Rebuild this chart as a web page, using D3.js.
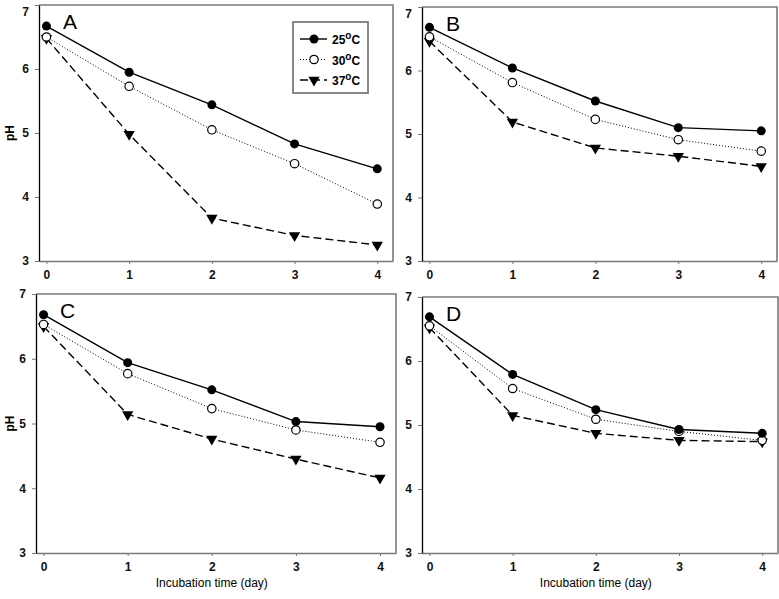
<!DOCTYPE html>
<html>
<head>
<meta charset="utf-8">
<script src="https://cdn.jsdelivr.net/npm/d3@7"></script>
<style>
  body { margin: 0; background: #fff; }
  svg { font-family: "Liberation Sans", Arial, sans-serif; }
</style>
</head>
<body>
<div id="chart"></div>
<script>
// incubation days and pH readings per panel
const days = [0, 1, 2, 3, 4];
const temps = ["25", "30", "37"];
const panelNames = ["A", "B", "C", "D"];
const yTicks = [3, 4, 5, 6, 7];

const phA25 = [6.67, 5.95, 5.44, 4.83, 4.44];
const phA30 = [6.50, 5.73, 5.05, 4.52, 3.89];
const phA37 = [6.48, 4.98, 3.67, 3.40, 3.25];

const phB25 = [6.68, 6.04, 5.52, 5.10, 5.05];
const phB30 = [6.53, 5.81, 5.23, 4.91, 4.73];
const phB37 = [6.46, 5.19, 4.78, 4.65, 4.49];

const phC25 = [6.68, 5.94, 5.52, 5.03, 4.95];
const phC30 = [6.53, 5.77, 5.23, 4.90, 4.71];
const phC37 = [6.50, 5.14, 4.76, 4.45, 4.16];

const phD25 = [6.69, 5.79, 5.24, 4.93, 4.87];
const phD30 = [6.55, 5.57, 5.09, 4.90, 4.76];
const phD37 = [6.52, 5.15, 4.87, 4.76, 4.74];

const panelData = [
  [phA25, phA30, phA37],
  [phB25, phB30, phB37],
  [phC25, phC30, phC37],
  [phD25, phD30, phD37]
];

// layout of the four frames (pixels)
const frames = [
  { x0: 39, x1: 393, y0: 5, y1: 261, ylab: true, xlab: false, legend: true },
  { x0: 422, x1: 777, y0: 7, y1: 261, ylab: false, xlab: false, legend: false },
  { x0: 36, x1: 396, y0: 294, y1: 553, ylab: true, xlab: true, legend: false },
  { x0: 422, x1: 778, y0: 297, y1: 553, ylab: false, xlab: true, legend: false }
];

const lineStyles = [
  { dash: null, width: 1.4 },
  { dash: "1,2", width: 1 },
  { dash: "8,4", width: 1.4 }
];

const svg = d3.select("#chart").append("svg")
  .attr("width", 779)
  .attr("height", 599);

function drawMarker(g, s, x, y) {
  if (s === 0) {
    g.append("circle").attr("cx", x).attr("cy", y).attr("r", 4.5).attr("fill", "#000");
  } else if (s === 1) {
    g.append("circle").attr("cx", x).attr("cy", y).attr("r", 4.2)
      .attr("fill", "#fff").attr("stroke", "#000").attr("stroke-width", 1.2);
  } else {
    g.append("path")
      .attr("d", d3.symbol().type(d3.symbolTriangle).size(55)())
      .attr("transform", `translate(${x},${y}) rotate(180)`)
      .attr("fill", "#000");
  }
}

frames.forEach((f, i) => {
  const x = d3.scaleLinear()
    .domain([-0.09, 4.19])
    .range([f.x0, f.x1]);
  const y = d3.scaleLinear()
    .domain([3, 7])
    .range([f.y1, f.y0]);

  const g = svg.append("g");

  // frame: top and right in grey
  g.append("path")
    .attr("d", `M${f.x0},${f.y0}H${f.x1}V${f.y1}`)
    .attr("fill", "none").attr("stroke", "#7a7a7a").attr("stroke-width", 1.6);

  const xAxis = d3.axisBottom(x).tickValues(days).tickFormat(d3.format("d"))
    .tickSize(3).tickSizeOuter(0).tickPadding(6);
  const gx = g.append("g")
    .attr("transform", `translate(0,${f.y1})`)
    .call(xAxis);
  gx.select(".domain").attr("stroke", "#7a7a7a").attr("stroke-width", 1.6);
  gx.selectAll(".tick line").attr("stroke", "#777");
  gx.selectAll(".tick text")
    .attr("font-size", 12).attr("font-weight", "bold")
    .attr("font-family", "Liberation Sans, Arial, sans-serif").attr("fill", "#111");

  const yAxis = d3.axisLeft(y).tickValues(yTicks).tickFormat(d3.format("d"))
    .tickSize(4).tickSizeOuter(0).tickPadding(6);
  const gy = g.append("g")
    .attr("transform", `translate(${f.x0},0)`)
    .call(yAxis);
  gy.select(".domain").attr("stroke", "#000").attr("stroke-width", 1.3);
  gy.selectAll(".tick line").attr("stroke", "#777");
  gy.selectAll(".tick text")
    .attr("font-size", 12).attr("font-weight", "bold")
    .attr("font-family", "Liberation Sans, Arial, sans-serif").attr("fill", "#111");
  // keep the top label inside the page
  if (f.y0 < 10) {
    gy.selectAll(".tick").filter(d => d === 7).select("text").attr("dy", "0.85em");
  }

  // series
  panelData[i].forEach((vals, s) => {
    const pts = days.map((d, k) => [x(d), y(vals[k])]);
    g.append("path")
      .attr("d", d3.line()(pts))
      .attr("fill", "none")
      .attr("stroke", "#000")
      .attr("stroke-width", lineStyles[s].width)
      .attr("stroke-dasharray", lineStyles[s].dash);
  });
  // markers drawn after lines, 37 first so circles stay visible
  [2, 1, 0].forEach(s => {
    days.forEach((d, k) => drawMarker(g, s, x(d), y(panelData[i][s][k])));
  });

  // panel letter
  g.append("text")
    .attr("x", f.x0 + 24).attr("y", f.y0 + 24)
    .attr("font-size", 21)
    .text(panelNames[i]);

  if (f.ylab) {
    g.append("text")
      .attr("transform", `translate(14,${(f.y0 + f.y1) / 2}) rotate(-90)`)
      .attr("text-anchor", "middle")
      .attr("font-size", 12).attr("font-weight", "bold")
      .text("pH");
  }
  if (f.xlab) {
    g.append("text")
      .attr("x", (x(0) + x(4)) / 2).attr("y", f.y1 + 34)
      .attr("text-anchor", "middle")
      .attr("font-size", 12)
      .text("Incubation time (day)");
  }

  if (f.legend) {
    const lg = g.append("g");
    lg.append("rect")
      .attr("x", 293).attr("y", 22).attr("width", 75).attr("height", 71)
      .attr("fill", "#fff").attr("stroke", "#7a7a7a").attr("stroke-width", 1.8);
    temps.forEach((t, s) => {
      const ly = 39 + s * 20.5;
      lg.append("line")
        .attr("x1", 300).attr("x2", 327).attr("y1", ly).attr("y2", ly)
        .attr("stroke", "#000")
        .attr("stroke-width", lineStyles[s].width)
        .attr("stroke-dasharray", lineStyles[s].dash);
      drawMarker(lg, s, 314, ly);
      const tx = lg.append("text")
        .attr("x", 332).attr("y", ly + 5)
        .attr("font-size", 12).attr("font-weight", "bold");
      tx.append("tspan").text(t);
      tx.append("tspan").attr("dy", -5).attr("font-size", 10).text("o");
      tx.append("tspan").attr("dy", 5).text("C");
    });
  }
});
</script>
</body>
</html>
